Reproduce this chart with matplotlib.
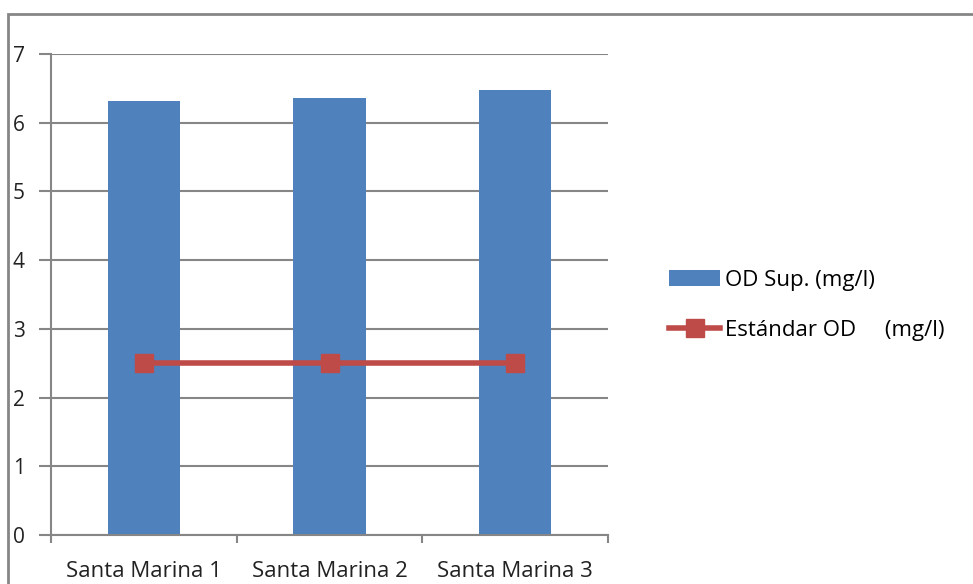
import matplotlib.pyplot as plt
import numpy as np
from matplotlib.patches import Rectangle

sitios = ["Santa Marina 1", "Santa Marina 2", "Santa Marina 3"]
od_sup = [6.32, 6.36, 6.47]
od_std = [2.5, 2.5, 2.5]

plt.rcParams['font.family'] = ['Open Sans', 'DejaVu Sans']
gris = '#868686'

fig = plt.figure(figsize=(9.73, 5.84), dpi=100)
ax = fig.add_axes([51/973, 49/584, 557/973, 481/584])

x = np.arange(len(sitios))
barras = ax.bar(x, od_sup, width=0.39, color='#4F81BD', label='OD Sup. (mg/l)', zorder=2)
linea, = ax.plot(x, od_std, color='#BE4B48', lw=4, marker='s', ms=13,
                 label='Estándar OD     (mg/l)', zorder=3)

ax.set_xlim(-0.5, 2.5)
ax.set_ylim(0, 7)
ax.set_yticks(range(8))
ax.set_xticks(x)
ax.set_xticklabels(sitios, fontsize=16)
ax.set_xticks([-0.5, 0.5, 1.5, 2.5], minor=True)
ax.tick_params(axis='x', which='major', length=0, pad=19, colors='#222222')
ax.tick_params(axis='x', which='minor', length=6, width=1.5, color=gris)
ax.tick_params(axis='y', length=9, width=1.5, color=gris, pad=10,
               labelsize=15, labelcolor='#222222')
ax.grid(axis='y', color=gris, lw=1.5, zorder=0)
for s in ['top', 'right']:
    ax.spines[s].set_visible(False)
for s in ['left', 'bottom']:
    ax.spines[s].set_color(gris)
    ax.spines[s].set_linewidth(1.5)

fig.legend([barras, linea], [barras.get_label(), linea.get_label()],
           loc='upper left', bbox_to_anchor=(649/973, 1 - 250/584),
           frameon=False, fontsize=16, handlelength=2.3,
           handletextpad=0.2, labelspacing=1.3)

# chart frame
fig.patches.append(Rectangle((8/973, -0.1), 1.2, 1.1 - 14/584,
                             transform=fig.transFigure, fill=False,
                             ec=gris, lw=2))

fig.savefig('out.png', dpi=100)
